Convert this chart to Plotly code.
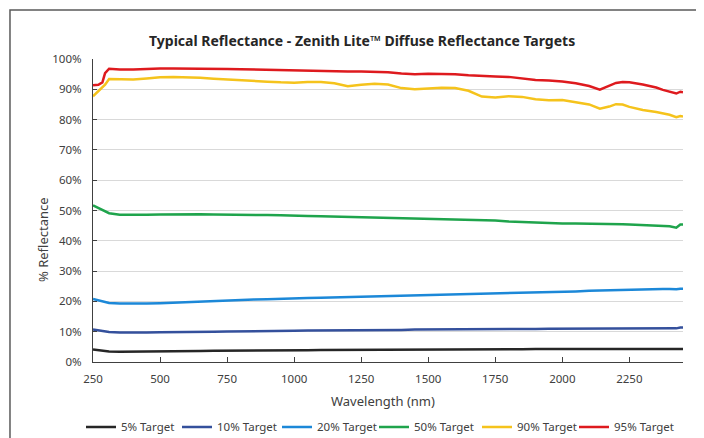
import plotly.graph_objects as go

wavelength = [250, 270, 285, 295, 310, 350, 400, 450, 500, 550, 600, 650, 700, 750, 800, 850, 900, 950,
              1000, 1050, 1100, 1150, 1200, 1250, 1300, 1350, 1400, 1450, 1500, 1550, 1600, 1650, 1700,
              1750, 1800, 1850, 1900, 1950, 2000, 2050, 2100, 2140, 2175, 2200, 2225, 2250, 2300, 2350,
              2375, 2400, 2425, 2440, 2450]

target_5 = [4.1, 3.9, 3.7, 3.6, 3.5, 3.4, 3.4, 3.4, 3.4, 3.5, 3.6, 3.6, 3.7, 3.7, 3.8, 3.8, 3.8, 3.9,
            3.9, 3.9, 4.0, 4.0, 4.0, 4.0, 4.1, 4.1, 4.1, 4.1, 4.1, 4.2, 4.2, 4.2, 4.2,
            4.2, 4.2, 4.2, 4.3, 4.3, 4.3, 4.3, 4.3, 4.3, 4.3, 4.3, 4.3, 4.3, 4.3, 4.3,
            4.3, 4.3, 4.3, 4.3, 4.3]
target_10 = [10.7, 10.4, 10.1, 10.0, 9.9, 9.7, 9.6, 9.7, 9.8, 9.8, 9.9, 9.9, 10.0, 10.1, 10.1, 10.2, 10.2, 10.3,
             10.3, 10.4, 10.4, 10.5, 10.5, 10.5, 10.6, 10.6, 10.6, 10.7, 10.7, 10.7, 10.8, 10.8, 10.8,
             10.9, 10.9, 10.9, 10.9, 11.0, 11.0, 11.0, 11.1, 11.1, 11.1, 11.2, 11.2, 11.2, 11.2, 11.2,
             11.2, 11.2, 11.1, 11.4, 11.4]
target_20 = [20.8, 20.3, 19.9, 19.7, 19.5, 19.3, 19.2, 19.3, 19.4, 19.6, 19.8, 19.9, 20.1, 20.3, 20.4, 20.6, 20.7, 20.9,
             21.0, 21.1, 21.2, 21.3, 21.5, 21.6, 21.7, 21.8, 21.9, 22.1, 22.2, 22.3, 22.4, 22.5, 22.6,
             22.7, 22.8, 22.9, 23.0, 23.1, 23.2, 23.3, 23.5, 23.6, 23.7, 23.8, 23.9, 23.9, 24.0, 24.0,
             24.1, 24.1, 24.0, 24.2, 24.2]
target_50 = [51.7, 50.8, 50.0, 49.6, 49.1, 48.6, 48.5, 48.6, 48.7, 48.8, 48.8, 48.8, 48.7, 48.7, 48.6, 48.6, 48.5, 48.4,
             48.4, 48.2, 48.1, 48.0, 47.9, 47.8, 47.7, 47.6, 47.4, 47.3, 47.2, 47.1, 47.0, 46.9, 46.8,
             46.7, 46.4, 46.2, 46.0, 45.8, 45.7, 45.7, 45.7, 45.6, 45.6, 45.5, 45.5, 45.4, 45.2, 45.0,
             44.9, 44.8, 44.3, 45.4, 45.4]
target_90 = [87.7, 89.5, 90.5, 91.5, 93.4, 93.3, 93.2, 93.6, 94.0, 94.1, 94.0, 93.8, 93.5, 93.2, 92.9, 92.7, 92.5, 92.3,
             92.2, 92.4, 92.4, 92.0, 91.0, 91.5, 91.8, 91.6, 90.4, 90.0, 90.3, 90.5, 90.4, 89.5, 87.6,
             87.3, 87.7, 87.5, 86.7, 86.4, 86.5, 85.8, 85.0, 83.6, 84.3, 85.1, 85.0, 84.2, 83.2, 82.5,
             82.0, 81.6, 80.8, 81.2, 81.0]
target_95 = [91.3, 91.5, 92.3, 95.3, 96.8, 96.5, 96.5, 96.8, 96.9, 96.9, 96.9, 96.9, 96.8, 96.7, 96.6, 96.5, 96.4, 96.3,
             96.1, 96.1, 96.0, 96.0, 95.9, 95.9, 95.8, 95.6, 95.2, 95.0, 95.1, 95.1, 95.0, 94.6, 94.3,
             94.2, 94.1, 93.6, 93.1, 92.9, 92.6, 92.0, 91.1, 89.9, 91.2, 92.1, 92.4, 92.3, 91.6, 90.6,
             89.8, 89.3, 88.6, 89.2, 89.0]

series_names = ["5% Target", "10% Target", "20% Target", "50% Target", "90% Target", "95% Target"]
series_values = [target_5, target_10, target_20, target_50, target_90, target_95]
series_colors = ["#262626", "#34509c", "#1c88d8", "#1fa44c", "#f5c31c", "#de1a1e"]

x_ticks = [250, 500, 750, 1000, 1250, 1500, 1750, 2000, 2250]
y_ticks = [0, 10, 20, 30, 40, 50, 60, 70, 80, 90, 100]
y_tick_labels = ["0%", "10%", "20%", "30%", "40%", "50%", "60%", "70%", "80%", "90%", "100%"]

FONT = "Noto Sans"
TXT = "#404040"

# horizontal start (page px) of each legend entry's text
legend_text_px = [121, 217, 317, 414, 517, 614]
PLOT_LEFT_PX, PLOT_W = 93, 590

fig = go.Figure()
legend_layouts = {}
for i, (name, vals, col) in enumerate(zip(series_names, series_values, series_colors)):
    key = "legend" if i == 0 else f"legend{i + 1}"
    fig.add_trace(go.Scatter(x=wavelength, y=vals, name=name, mode="lines",
                             line=dict(color=col, width=2.5), legend=key))
    legend_layouts[key] = dict(orientation="h",
                               x=(legend_text_px[i] - 40 - PLOT_LEFT_PX) / PLOT_W, xanchor="left",
                               y=-0.2145, yanchor="middle",
                               font=dict(family=FONT, size=11.5, color=TXT),
                               itemwidth=30, bgcolor="rgba(0,0,0,0)")

fig.update_layout(
    width=696, height=430,
    margin=dict(l=85, r=21, t=51, b=76, autoexpand=False),
    paper_bgcolor="white", plot_bgcolor="white",
    font=dict(family=FONT, size=11.5, color=TXT),
    showlegend=True,
    xaxis=dict(range=[250, 2450], tickvals=x_ticks, ticks="inside", ticklen=5, tickcolor="#404040",
               showline=True, linecolor="#404040", linewidth=1.2, showgrid=False, zeroline=False,
               tickfont=dict(family=FONT, size=11.5, color=TXT), ticklabelstandoff=6),
    yaxis=dict(range=[0, 100], tickvals=y_ticks, ticktext=y_tick_labels, ticks="inside", ticklen=4,
               tickcolor="#404040", showline=True, linecolor="#404040", linewidth=1.2,
               showgrid=True, gridcolor="#d9d9d9", gridwidth=1, zeroline=False,
               tickfont=dict(family=FONT, size=11.5, color=TXT), ticklabelstandoff=8),
    annotations=[
        dict(text="<b>Typical Reflectance - Zenith Lite™ Diffuse Reflectance Targets</b>",
             xref="paper", yref="paper", x=0.456, y=1.0627, xanchor="center", yanchor="middle",
             showarrow=False, font=dict(family=FONT, size=14, color="#262626")),
        dict(text="% Reflectance", xref="paper", yref="paper", x=-0.0847, y=0.4026,
             xanchor="center", yanchor="middle", textangle=-90, showarrow=False,
             font=dict(family=FONT, size=13, color=TXT)),
        dict(text="Wavelength (nm)", xref="paper", yref="paper", x=0.4915, y=-0.1287,
             xanchor="center", yanchor="middle", showarrow=False,
             font=dict(family=FONT, size=13, color=TXT)),
    ],
    shapes=[dict(type="rect", xref="paper", yref="paper", x0=-0.1407, x1=1.06, y0=-0.3, y1=1.1617,
                 line=dict(color="#5a5a5a", width=1.5), fillcolor="rgba(0,0,0,0)", layer="above")],
)
fig.update_layout(**legend_layouts)

fig.write_html("out.html")
